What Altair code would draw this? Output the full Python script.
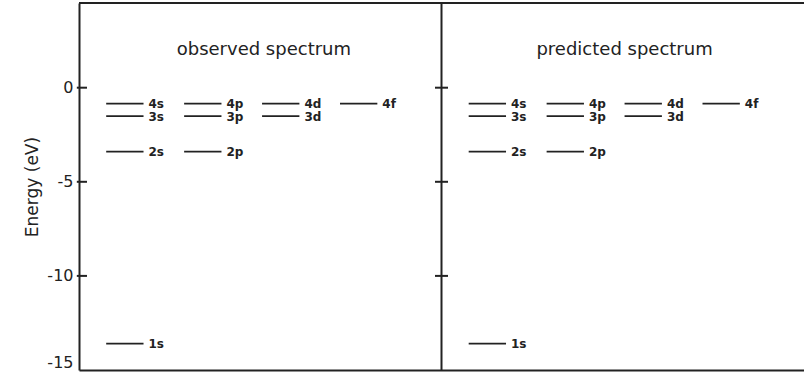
import altair as alt
import pandas as pd

# Energy levels of hydrogen (eV), grouped by orbital column
orbitals = ["1s", "2s", "3s", "4s", "2p", "3p", "4p", "3d", "4d", "4f"]
columns = [0, 0, 0, 0, 1, 1, 1, 2, 2, 3]
observed_ev = [-13.6, -3.4, -1.51, -0.85, -3.4, -1.51, -0.85, -1.51, -0.85, -0.85]
predicted_ev = [-13.6, -3.4, -1.51, -0.85, -3.4, -1.51, -0.85, -1.51, -0.85, -0.85]
panel_titles = ["observed spectrum", "predicted spectrum"]
y_ticks = [0, -5, -10, -15]
frame_tick_values = [0, -5, -10]

PANEL = 10.0          # width of one panel in x units
COL_START = [0.75, 2.9, 5.05, 7.2]
LINE_LEN = 1.03
Y_MIN, Y_MAX = -15, 4.5
INK = "#222222"
FONT = "DejaVu Sans"

rows = []
for p, values in enumerate([observed_ev, predicted_ev]):
    for name, col, e in zip(orbitals, columns, values):
        x0 = p * PANEL + COL_START[col]
        rows.append({"orbital": name, "energy": e, "x0": x0, "x1": x0 + LINE_LEN})
levels = pd.DataFrame(rows)

titles = pd.DataFrame({"title": panel_titles,
                       "x": [PANEL * 0.5 + 0.1, PANEL * 1.5 + 0.05],
                       "y": [1.75, 1.75]})

# tick segments: inward on the outer axis, crossing on the panel divider
outer_ticks = pd.DataFrame({"y": frame_tick_values,
                            "a": [-0.06] * 3, "b": [0.22] * 3})
inner_ticks = pd.DataFrame({"y": frame_tick_values,
                            "a": [PANEL - 0.18] * 3, "b": [PANEL + 0.18] * 3})

xs = alt.Scale(domain=[0, 2 * PANEL], nice=False, zero=False)
ys = alt.Scale(domain=[Y_MIN, Y_MAX], nice=False, zero=False)

base_y = alt.Y("energy:Q", scale=ys,
               axis=alt.Axis(title="Energy (eV)", values=y_ticks, ticks=False,
                             grid=False, domain=True, domainColor=INK,
                             domainWidth=2, labelPadding=6, labelFontSize=16,
                             labelColor=INK, labelFont=FONT, titleFont=FONT,
                             labelExpr="'' + datum.value", labelFlush=True,
                             titleFontSize=17, titleFontWeight="normal",
                             titleColor=INK, titlePadding=5))

level_lines = alt.Chart(levels).mark_rule(color=INK, strokeWidth=1.8).encode(
    x=alt.X("x0:Q", scale=xs, axis=alt.Axis(title=None, labels=False, ticks=False,
                                             grid=False, domain=True,
                                             domainColor=INK, domainWidth=2)),
    x2="x1:Q",
    y=base_y,
)

level_labels = alt.Chart(levels).mark_text(
    align="left", baseline="middle", dx=5, dy=0.5, fontSize=12,
    fontWeight="bold", font=FONT, color=INK
).encode(x=alt.X("x1:Q", scale=xs), y=alt.Y("energy:Q", scale=ys), text="orbital:N")

title_text = alt.Chart(titles).mark_text(
    align="center", baseline="alphabetic", fontSize=18, font=FONT, color=INK
).encode(x=alt.X("x:Q", scale=xs), y=alt.Y("y:Q", scale=ys), text="title:N")

# top edge of the frame and the panel divider
top_edge = alt.Chart(pd.DataFrame({"y": [Y_MAX]})).mark_rule(
    color=INK, strokeWidth=2).encode(
    y=alt.Y("y:Q", scale=ys), x=alt.datum(0, scale=xs), x2=alt.datum(2 * PANEL))
divider = alt.Chart(pd.DataFrame({"x": [PANEL]})).mark_rule(
    color=INK, strokeWidth=2).encode(
    x=alt.X("x:Q", scale=xs), y=alt.datum(Y_MIN, scale=ys), y2=alt.datum(Y_MAX))

outer = alt.Chart(outer_ticks).mark_rule(color=INK, strokeWidth=2).encode(
    x=alt.X("a:Q", scale=xs), x2="b:Q", y=alt.Y("y:Q", scale=ys))
inner = alt.Chart(inner_ticks).mark_rule(color=INK, strokeWidth=2).encode(
    x=alt.X("a:Q", scale=xs), x2="b:Q", y=alt.Y("y:Q", scale=ys))

chart = alt.layer(
    level_lines, level_labels, title_text, top_edge, divider, outer, inner
).properties(
    width=725, height=367,
    autosize=alt.AutoSizeParams(type="none"),
    padding={"left": 79, "top": 3, "right": 0, "bottom": 6},
    background="white",
).configure_view(stroke=None)

chart.save("out.html", embed_options={"renderer": "svg", "actions": False})
